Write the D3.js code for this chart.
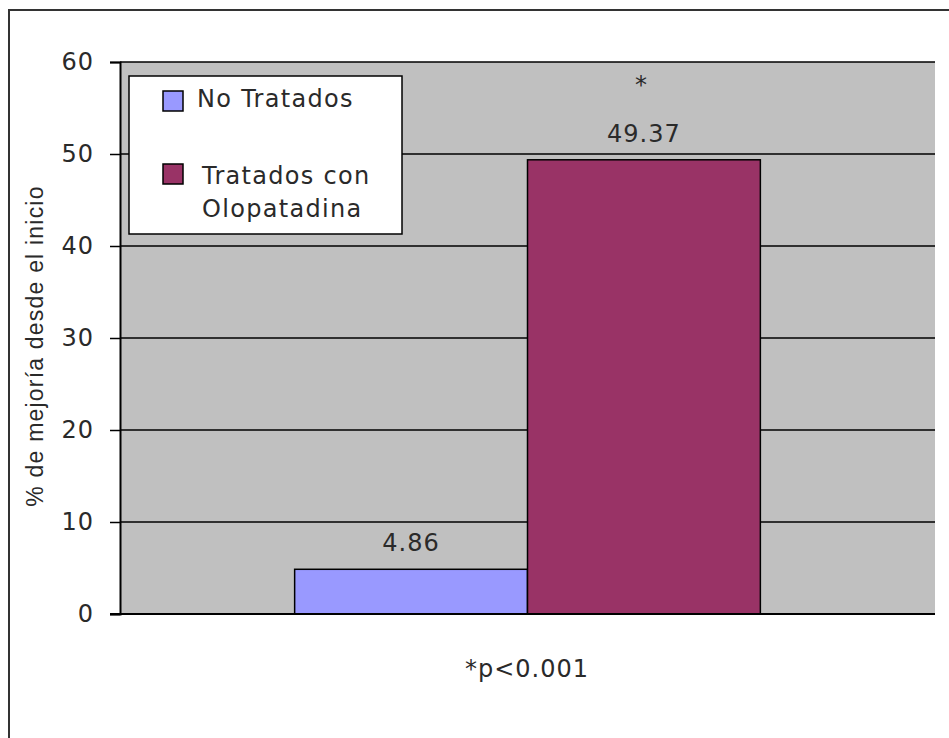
<!DOCTYPE html>
<html>
<head>
<meta charset="utf-8">
<script src="https://cdn.jsdelivr.net/npm/d3@7"></script>
<style>
  html, body { margin: 0; padding: 0; background: #fff; }
  svg { display: block; }
</style>
</head>
<body>
<svg id="chart" width="949" height="738"></svg>
<script>
// Improvement from baseline, one group of two series
const categories = ["Mejoría"];
const seriesNames = ["No Tratados", "Tratados con Olopatadina"];
const seriesValues = [4.86, 49.37];
const valueLabels = ["4.86", "49.37"];
const significance = ["", "*"];
const yTicks = [0, 10, 20, 30, 40, 50, 60];
const seriesColors = ["#9999ff", "#993366"];

const svg = d3.select("#chart");
const numFont = "'DejaVu Sans', Verdana, sans-serif";
const textColor = "#2a2a2a";

// outer chart frame
svg.append("rect")
  .attr("x", 9).attr("y", 10)
  .attr("width", 960).attr("height", 760)
  .attr("fill", "#fff")
  .attr("stroke", "#333").attr("stroke-width", 2);

const plot = { left: 120, right: 935, top: 62, bottom: 614 };

const y = d3.scaleLinear().domain([0, 60]).range([plot.bottom, plot.top]);
// gap width of 150% of a bar, split on both sides of the group
const x0 = d3.scaleBand().domain(categories)
  .range([plot.left, plot.right])
  .paddingInner(0).paddingOuter(0.375);
const x1 = d3.scaleBand().domain(seriesNames)
  .range([0, x0.bandwidth()]).padding(0);

// plot background
svg.append("rect")
  .attr("x", plot.left).attr("y", plot.top)
  .attr("width", plot.right - plot.left).attr("height", plot.bottom - plot.top)
  .attr("fill", "#c0c0c0");

// gridlines
svg.append("g").selectAll("line")
  .data(yTicks.filter(d => d > 0))
  .join("line")
  .attr("x1", plot.left).attr("x2", plot.right)
  .attr("y1", d => y(d)).attr("y2", d => y(d))
  .attr("stroke", "#000").attr("stroke-width", 1.3);

// bars
const bars = seriesNames.map((s, i) => ({ series: s, value: seriesValues[i], color: seriesColors[i], label: valueLabels[i], sig: significance[i] }));
const cat = categories[0];
svg.append("g").selectAll("rect")
  .data(bars)
  .join("rect")
  .attr("x", d => x0(cat) + x1(d.series))
  .attr("y", d => y(d.value))
  .attr("width", x1.bandwidth())
  .attr("height", d => y(0) - y(d.value))
  .attr("fill", d => d.color)
  .attr("stroke", "#000").attr("stroke-width", 1.5);

// value labels
const lbl = svg.append("g").attr("font-family", numFont).attr("font-size", 24)
  .attr("fill", textColor).attr("text-anchor", "middle").attr("letter-spacing", 1);
lbl.selectAll("text.v")
  .data(bars)
  .join("text").attr("class", "v")
  .attr("x", d => x0(cat) + x1(d.series) + x1.bandwidth() / 2)
  .attr("y", d => y(d.value) - 18)
  .text(d => d.label);
lbl.selectAll("text.s")
  .data(bars.filter(d => d.sig))
  .join("text").attr("class", "s")
  .attr("x", d => x0(cat) + x1(d.series) + x1.bandwidth() / 2 - 3)
  .attr("y", d => y(d.value) - 67)
  .attr("letter-spacing", 0)
  .text(d => d.sig);

// y axis
const yAxis = d3.axisLeft(y).tickValues(yTicks).tickSize(10).tickPadding(16)
  .tickFormat(d3.format("d"));
const ag = svg.append("g").attr("transform", `translate(${plot.left},0)`).call(yAxis);
ag.select(".domain").attr("stroke", "#000").attr("stroke-width", 2);
ag.selectAll(".tick line").attr("stroke", "#000").attr("stroke-width", 1.5);
ag.selectAll(".tick text").attr("font-family", numFont).attr("font-size", 24)
  .attr("fill", textColor).attr("letter-spacing", 1);

// x axis baseline
svg.append("line")
  .attr("x1", plot.left - 10).attr("x2", plot.right)
  .attr("y1", plot.bottom).attr("y2", plot.bottom)
  .attr("stroke", "#000").attr("stroke-width", 2);

// y axis title
svg.append("text")
  .attr("transform", `translate(43,${(plot.top + plot.bottom) / 2 + 8}) rotate(-90)`)
  .attr("text-anchor", "middle")
  .attr("font-family", "'Liberation Sans', Arial, sans-serif")
  .attr("font-size", 23).attr("letter-spacing", 1.2).attr("fill", textColor)
  .text("% de mejoría desde el inicio");

// footnote
svg.append("text")
  .attr("x", 527).attr("y", 677)
  .attr("text-anchor", "middle")
  .attr("font-family", numFont).attr("font-size", 24)
  .attr("fill", textColor).attr("letter-spacing", 1)
  .text("*p<0.001");

// legend
const leg = svg.append("g");
leg.append("rect")
  .attr("x", 129).attr("y", 76).attr("width", 273).attr("height", 158)
  .attr("fill", "#fff").attr("stroke", "#000").attr("stroke-width", 1.5);
const legRows = [
  { color: seriesColors[0], lines: [seriesNames[0]], sy: 91, ty: 107, tx: 197 },
  { color: seriesColors[1], lines: ["Tratados con", "Olopatadina"], sy: 164, ty: 184, tx: 202 }
];
legRows.forEach(r => {
  leg.append("rect")
    .attr("x", 163).attr("y", r.sy).attr("width", 20).attr("height", 20)
    .attr("fill", r.color).attr("stroke", "#000").attr("stroke-width", 1.5);
  const t = leg.append("text")
    .attr("font-family", numFont).attr("font-size", 24)
    .attr("fill", textColor).attr("letter-spacing", 1.3);
  r.lines.forEach((ln, j) => {
    t.append("tspan").attr("x", r.tx).attr("y", r.ty + j * 33).text(ln);
  });
});
</script>
</body>
</html>
